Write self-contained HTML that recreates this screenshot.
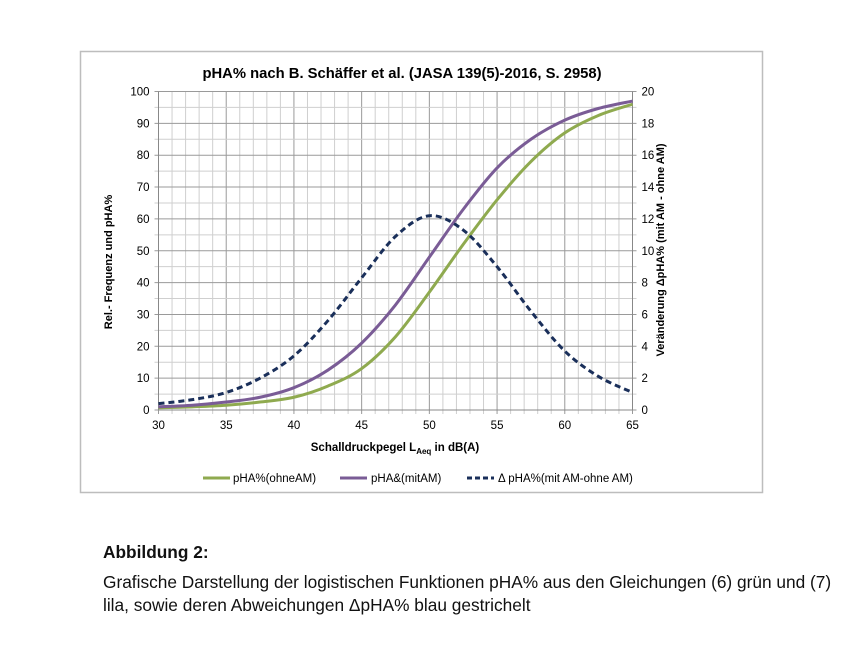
<!DOCTYPE html>
<html><head><meta charset="utf-8"><style>
body{margin:0;background:#fff;width:862px;height:652px;overflow:hidden;font-family:"Liberation Sans",sans-serif}
.cap{position:absolute;left:103px;font-size:17.3px;color:#111;white-space:nowrap}
</style></head><body>
<svg id="s" width="862" height="652" style="position:absolute;left:0;top:0" font-family="Liberation Sans, sans-serif">
<rect x="80.5" y="51.5" width="682" height="441" fill="#fff" stroke="#bdbdbd" stroke-width="1.5"/>
<g id="grid"></g>
<g id="curves" fill="none"></g>
<text x="402" y="78" text-anchor="middle" font-size="14.8" font-weight="bold">pHA% nach B. Schäffer et al. (JASA 139(5)-2016,  S. 2958)</text>
<text transform="translate(112,262) rotate(-90)" text-anchor="middle" font-size="11" font-weight="bold">Rel.- Frequenz  und pHA%</text>
<text transform="translate(664,250) rotate(-90)" text-anchor="middle" font-size="11" font-weight="bold">Veränderung ΔpHA% (mit AM - ohne AM)</text>
<text x="395" y="451" text-anchor="middle" font-size="11.5" font-weight="bold">Schalldruckpegel L<tspan font-size="8" dy="3">Aeq</tspan><tspan dy="-3">  in dB(A)</tspan></text>
<g font-size="11.5">
<line x1="203" y1="478" x2="230" y2="478" stroke="#8faa4f" stroke-width="3"/>
<text x="233" y="482">pHA%(ohneAM)</text>
<line x1="340" y1="478" x2="367" y2="478" stroke="#7a5c96" stroke-width="3"/>
<text x="371" y="482">pHA&amp;(mitAM)</text>
<line x1="467" y1="478" x2="494" y2="478" stroke="#1a2f5a" stroke-width="3" stroke-dasharray="5,3"/>
<text x="498" y="482">Δ pHA%(mit AM-ohne AM)</text>
</g>
</svg>
<div class="cap" style="top:542px;font-weight:bold">Abbildung 2:</div>
<div class="cap" style="top:572px">Grafische Darstellung der logistischen Funktionen pHA% aus den Gleichungen (6) grün und (7)</div>
<div class="cap" style="top:595px">lila, sowie deren Abweichungen ΔpHA% blau gestrichelt</div>
<script>
const NS="http://www.w3.org/2000/svg";
const X0=158.5,X1=632.5,Y0=410,Y1=91.5;
const fx=L=>X0+(L-30)*(X1-X0)/35, fy=v=>Y0-v*(Y0-Y1)/100;
const g=document.getElementById('grid'),c=document.getElementById('curves'),s=document.getElementById('s');
function el(p,t,a){const e=document.createElementNS(NS,t);for(const k in a)e.setAttribute(k,a[k]);p.appendChild(e);return e;}
for(let L=30;L<=65;L++){const x=fx(L);el(g,'line',{x1:x,x2:x,y1:Y1,y2:Y0+4,stroke:L%5==0?'#9a9a9a':'#cfcfcf','stroke-width':1});
 if(L%5==0){const t=el(s,'text',{x:x,y:Y0+19,'text-anchor':'middle','font-size':11.5});t.textContent=L;}}
for(let v=0;v<=100;v+=5){const y=fy(v);el(g,'line',{x1:X0-4,x2:X1+4,y1:y,y2:y,stroke:v%10==0?'#9a9a9a':'#cfcfcf','stroke-width':1});
 if(v%10==0){let t=el(s,'text',{x:X0-9,y:y+4,'text-anchor':'end','font-size':11.5});t.textContent=v;
 t=el(s,'text',{x:X1+9,y:y+4,'font-size':11.5});t.textContent=v/5;}}
el(g,'line',{x1:X0,x2:X0,y1:Y1,y2:Y0,stroke:'#888'});el(g,'line',{x1:X1,x2:X1,y1:Y1,y2:Y0,stroke:'#888'});
el(g,'line',{x1:X0,x2:X1,y1:Y0,y2:Y0,stroke:'#888'});
function cr(pts){let d='M'+pts[0].join(',');for(let i=0;i<pts.length-1;i++){const p0=pts[Math.max(0,i-1)],p1=pts[i],p2=pts[i+1],p3=pts[Math.min(pts.length-1,i+2)];
 d+=` C${p1[0]+(p2[0]-p0[0])/6},${p1[1]+(p2[1]-p0[1])/6} ${p2[0]-(p3[0]-p1[0])/6},${p2[1]-(p3[1]-p1[1])/6} ${p2[0]},${p2[1]}`;}return d;}
const Ls=[30,32.5,35,37.5,40,42.5,45,47.5,50,52.5,55,57.5,60,62.5,65];
const G=[0.7,1,1.5,2.5,4,7.5,13,23,37,52,66,78,87,92.5,96];
const P=[1,1.5,2.5,4,7,12.5,21,33,48,63,76,85,91,94.7,97];
const D=[0.4,0.65,1.1,2,3.4,5.6,8.3,10.9,12.2,11.3,9.0,6.2,3.7,2.1,1.1];
el(c,'path',{d:cr(Ls.map((L,i)=>[fx(L),fy(G[i])])),stroke:'#8faa4f','stroke-width':3});
el(c,'path',{d:cr(Ls.map((L,i)=>[fx(L),fy(P[i])])),stroke:'#7a5c96','stroke-width':3});
el(c,'path',{d:cr(Ls.map((L,i)=>[fx(L),fy(D[i]*5)])),stroke:'#1a2f5a','stroke-width':3,'stroke-dasharray':'6,4'});
</script>
</body></html>
